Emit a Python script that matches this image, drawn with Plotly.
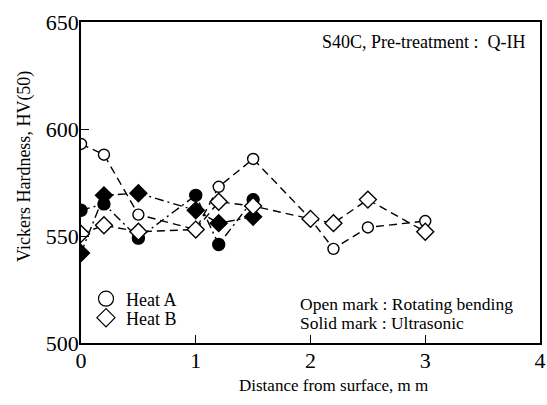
import plotly.graph_objects as go

# Distance from surface (mm)
x_open = [0, 0.2, 0.5, 1.0, 1.2, 1.5, 2.0, 2.2, 2.5, 3.0]
x_solid = [0, 0.2, 0.5, 1.0, 1.2, 1.5]

# Vickers hardness HV(50)
heatA_rot = [593, 588, 560, 553, 573, 586, 558, 544, 554, 557]
heatB_rot = [551, 555, 552, 553, 566, 564, 558, 556, 567, 552]
heatA_ult = [562, 565, 549, 569, 546, 567]
heatB_ult = [542, 569, 570, 562, 556, 559]

FONT = "Liberation Serif"
DASH = "8px,5px"
DASHDOT = "9px,4px,2px,4px"
W, H = 547, 405
L, R, T, B = 81, 7, 22, 62
PW, PH = W - L - R, H - T - B

def px(xp):
    return (xp - L) / PW

def py(yp):
    return (H - B - yp) / PH

fig = go.Figure()

def add(x, y, symbol, filled, dash, size):
    fig.add_trace(go.Scatter(
        x=x, y=y, mode="lines+markers", showlegend=False,
        line=dict(color="black", width=1.4, dash=dash),
        marker=dict(symbol=symbol, size=size,
                    color="black" if filled else "white",
                    line=dict(color="black", width=1.4)),
    ))

add(x_solid, heatA_ult, "circle", True, DASHDOT, 12)
add(x_solid, heatB_ult, "diamond", True, DASHDOT, 13)
add(x_open, heatA_rot, "circle", False, DASH, 11)
add(x_open, heatB_rot, "diamond", False, DASH, 13)

# legend entries
fig.add_trace(go.Scatter(x=[None], y=[None], mode="markers", name="Heat A",
                         legend="legend",
                         marker=dict(symbol="circle", size=15, color="white",
                                     line=dict(color="black", width=1.2))))
fig.add_trace(go.Scatter(x=[None], y=[None], mode="markers", name="Heat B",
                         legend="legend2",
                         marker=dict(symbol="diamond", size=14, color="white",
                                     line=dict(color="black", width=1.2))))

leg_common = dict(xanchor="left", yanchor="middle", bgcolor="rgba(0,0,0,0)",
                  font=dict(size=18, family=FONT), itemsizing="trace",
                  borderwidth=0)

fig.update_layout(
    width=W, height=H,
    margin=dict(l=L, r=R, t=T, b=B),
    paper_bgcolor="white", plot_bgcolor="white",
    font=dict(family=FONT, color="black", size=16),
    legend=dict(x=px(86), y=py(299), **leg_common),
    legend2=dict(x=px(86), y=py(318), **leg_common),
    annotations=[
        dict(text="S40C, Pre-treatment :  Q-IH", x=px(527), y=py(42),
             xref="paper", yref="paper", xanchor="right", yanchor="middle",
             showarrow=False, font=dict(size=18, family=FONT)),
        dict(text="Open mark : Rotating bending",
             x=px(298), y=py(303.5), xref="paper", yref="paper",
             xanchor="left", yanchor="middle", showarrow=False,
             font=dict(size=17.5, family=FONT)),
        dict(text="Solid mark : Ultrasonic",
             x=px(298), y=py(323), xref="paper", yref="paper",
             xanchor="left", yanchor="middle", showarrow=False,
             font=dict(size=17.5, family=FONT)),
        dict(text="Vickers Hardness, HV(50)", textangle=-90,
             x=px(24), y=py(167), xref="paper", yref="paper",
             xanchor="center", yanchor="middle", showarrow=False,
             font=dict(size=18, family=FONT)),
        dict(text="Distance from surface, m m",
             x=px(333), y=py(386), xref="paper", yref="paper",
             xanchor="center", yanchor="middle", showarrow=False,
             font=dict(size=17, family=FONT)),
    ],
)
fig.update_xaxes(range=[0, 4], dtick=1, showgrid=False, zeroline=False,
                 showline=True, linecolor="black", linewidth=1.5, mirror=True,
                 ticks="inside", ticklen=8, tickcolor="black", automargin=False,
                 ticklabelstandoff=-3,
                 tickfont=dict(size=22, family=FONT))
fig.update_yaxes(range=[500, 650], dtick=50, showgrid=False, zeroline=False,
                 showline=True, linecolor="black", linewidth=1.5, mirror=True,
                 ticks="inside", ticklen=8, tickcolor="black", automargin=False,
                 ticklabelstandoff=-4,
                 tickfont=dict(size=22, family=FONT))

fig.write_html(
    "out.html",
    config={"displayModeBar": False},
    post_script="document.body.style.margin='0';"
                "document.body.style.overflow='hidden';",
)
